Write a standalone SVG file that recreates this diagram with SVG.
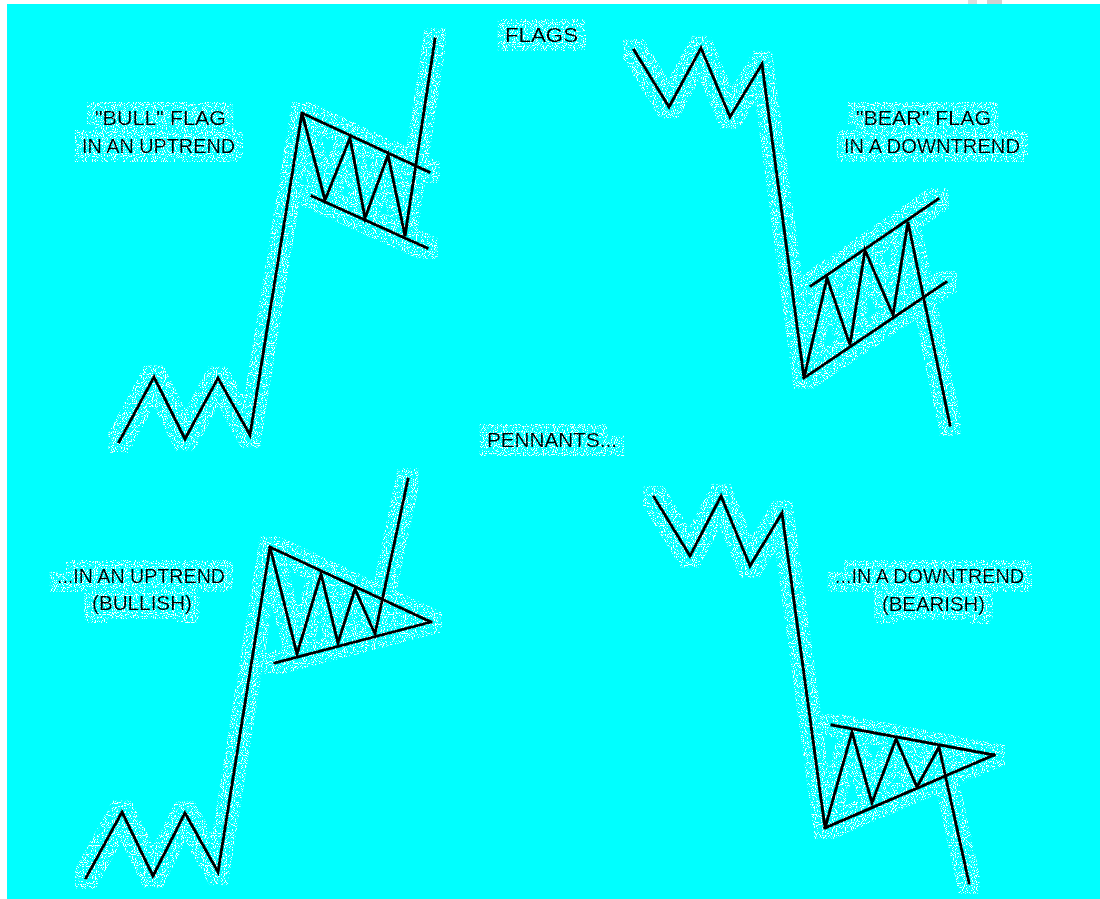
<svg xmlns="http://www.w3.org/2000/svg" width="1100" height="899" viewBox="0 0 1100 899">
<style>
.bg{fill:#00FFFF}
.ln{fill:none;stroke:#000;stroke-width:3;stroke-linejoin:miter;stroke-linecap:square}
.t{font-family:"Liberation Sans",Arial,sans-serif;font-size:21px;fill:#000}
</style>
<defs>
<filter id="speck" filterUnits="userSpaceOnUse" x="0" y="0" width="1100" height="899">
 <feMorphology in="SourceAlpha" operator="dilate" radius="9" result="zone"/>
 <feTurbulence type="fractalNoise" baseFrequency="0.9" numOctaves="1" seed="3" result="noise"/>
 <feColorMatrix in="noise" type="matrix" values="0 0 0 0 1  0 0 0 0 1  0 0 0 0 1  18 0 0 0 -9.9" result="dots"/>
 <feComposite in="dots" in2="zone" operator="in" result="halo"/>
 <feMerge><feMergeNode in="halo"/><feMergeNode in="SourceGraphic"/></feMerge>
</filter>
</defs>
<rect x="0" y="0" width="1100" height="899" fill="#fff"/>
<rect class="bg" x="7" y="4" width="1093" height="895"/>
<rect x="968" y="0" width="9" height="4" fill="#ddd"/>
<rect x="987" y="0" width="15" height="4" fill="#d0d0d0"/>

<g id="bull-flag" filter="url(#speck)">
 <polyline class="ln" points="119,442 154,377 185,439 218,378 250,435 302,113 325,200 350,138 365,218 388,155 405,236 435,39"/>
 <line class="ln" x1="302" y1="113" x2="429" y2="172"/>
 <line class="ln" x1="312" y1="196" x2="427" y2="248"/>
</g>
<g id="bear-flag" filter="url(#speck)">
 <polyline class="ln" points="634,50 669,107 701,48 730,117 762,64 804,378 827,278 850,345 865,250 893,315 908,222 950,425"/>
 <line class="ln" x1="811" y1="286" x2="938" y2="199"/>
 <line class="ln" x1="804" y1="378" x2="946" y2="282"/>
</g>
<g id="bull-pennant" filter="url(#speck)">
 <polyline class="ln" points="86,878 122,812 153,876 185,813 218,872 270,547 297,654 321,574 338,643 355,589 375,634 408,479"/>
 <line class="ln" x1="270" y1="547" x2="431" y2="622"/>
 <line class="ln" x1="275" y1="663" x2="431" y2="622"/>
</g>
<g id="bear-pennant" filter="url(#speck)">
 <polyline class="ln" points="654,497 690,556 721,496 750,566 782,513 825,828 852,732 872,803 896,739 917,787 939,747 969,883"/>
 <line class="ln" x1="832" y1="725" x2="994" y2="755"/>
 <line class="ln" x1="825" y1="828" x2="994" y2="755"/>
</g>

<g id="title-flags" filter="url(#speck)">
 <text class="t" x="505" y="42" textLength="73" lengthAdjust="spacingAndGlyphs">FLAGS</text>
</g>
<g id="label-bull-flag" filter="url(#speck)">
 <text class="t" x="95" y="125" textLength="131" lengthAdjust="spacingAndGlyphs">"BULL" FLAG</text>
 <text class="t" x="82" y="153" textLength="153" lengthAdjust="spacingAndGlyphs">IN AN UPTREND</text>
</g>
<g id="label-bear-flag" filter="url(#speck)">
 <text class="t" x="856" y="125" textLength="135" lengthAdjust="spacingAndGlyphs">"BEAR" FLAG</text>
 <text class="t" x="844" y="153" textLength="176" lengthAdjust="spacingAndGlyphs">IN A DOWNTREND</text>
</g>
<g id="title-pennants" filter="url(#speck)">
 <text class="t" x="487" y="447" textLength="130" lengthAdjust="spacingAndGlyphs">PENNANTS...</text>
</g>
<g id="label-bull-pennant" filter="url(#speck)">
 <text class="t" x="57" y="583" textLength="168" lengthAdjust="spacingAndGlyphs">...IN AN UPTREND</text>
 <text class="t" x="92" y="610" textLength="100" lengthAdjust="spacingAndGlyphs">(BULLISH)</text>
</g>
<g id="label-bear-pennant" filter="url(#speck)">
 <text class="t" x="835" y="583" textLength="189" lengthAdjust="spacingAndGlyphs">...IN A DOWNTREND</text>
 <text class="t" x="882" y="611" textLength="103" lengthAdjust="spacingAndGlyphs">(BEARISH)</text>
</g>
</svg>
